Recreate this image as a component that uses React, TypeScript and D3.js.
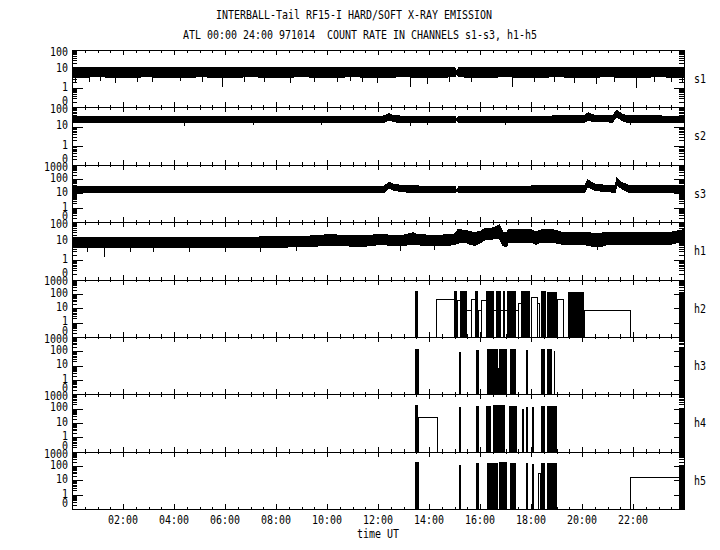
import React from "react";
import * as d3 from "d3";

// ---------- data ----------
const channelNames = ["s1", "s2", "s3", "h1", "h2", "h3", "h4", "h5"];
const channelMax = [100, 100, 1000, 100, 1000, 1000, 1000, 1000];
const hourTicks = [2, 4, 6, 8, 10, 12, 14, 16, 18, 20, 22];
const hourTickLabels = ["02:00", "04:00", "06:00", "08:00", "10:00", "12:00", "14:00", "16:00", "18:00", "20:00", "22:00"];
const titleText = "INTERBALL-Tail RF15-I HARD/SOFT X-RAY EMISSION";
const subtitleText = "ATL 00:00 24:00 971014  COUNT RATE IN CHANNELS s1-s3, h1-h5";
const xAxisTitle = "time UT";

// soft channels: [hour, low edge, high edge] of the noisy count-rate band
const s1Band: [number, number, number][] = [
  [0, 3.8, 12], [1, 3.9, 12.5], [2, 3.8, 12], [3, 3.9, 12.5], [4, 3.7, 12], [5, 3.9, 12.5],
  [6, 3.8, 12], [7, 3.9, 12], [8, 3.8, 12.5], [9, 3.9, 12], [10, 3.8, 12.5], [11, 3.9, 12],
  [12, 3.8, 12], [13, 3.9, 12.5], [14, 3.8, 12], [15.02, 3.9, 12], [15.06, 5, 9], [15.12, 5, 9],
  [15.16, 3.9, 12.5], [16, 3.8, 12], [17, 3.9, 12.5], [18, 3.8, 12], [19, 3.9, 12.5], [20, 3.8, 12],
  [21, 3.9, 12.5], [22, 3.8, 12], [23, 3.9, 12.5], [24, 3.8, 12],
];
const s1Spikes: [number, number][] = [
  [0.14, 2.2], [0.7, 2.0], [1.12, 2.4], [1.71, 1.8], [2.56, 2.2], [3.15, 2.0], [4.26, 2.3],
  [5.12, 2.1], [5.9, 1.2], [6.75, 2.0], [7.53, 2.2], [8.58, 1.9], [9.5, 2.2], [10.42, 2.0],
  [10.94, 2.3], [11.4, 2.1], [11.99, 1.9], [13.27, 1.2], [13.95, 1.7], [14.8, 2.2], [15.65, 2.0],
  [17.29, 1.2], [18.14, 2.0], [18.92, 2.2], [19.71, 1.9], [20.56, 1.6], [21.28, 2.1], [22.13, 1.0],
  [22.85, 2.0], [23.5, 2.2], [23.96, 2.0],
];
const s2Band: [number, number, number][] = [
  [0, 16, 35], [2, 16, 35], [4, 15.5, 35], [6, 16, 35], [8, 16, 35], [10, 16, 35], [12.2, 16, 35],
  [12.43, 22, 46], [12.6, 18, 38], [12.9, 16, 35], [15.02, 16, 35], [15.06, 20, 26], [15.12, 20, 26],
  [15.16, 16, 35], [18, 16, 35], [20.1, 16, 36], [20.24, 22, 53], [20.45, 18, 40], [21.2, 17, 37],
  [21.37, 33, 74], [21.55, 21, 45], [21.8, 16, 36], [24, 16, 35],
];
const s2Spikes: [number, number][] = [
  [4.42, 11], [7.1, 12], [9.8, 12], [13.29, 11], [13.95, 12], [17.0, 12], [21.9, 12],
];
const s3Band: [number, number, number][] = [
  [0, 11, 33], [2, 11, 33], [4, 11, 33], [6, 11, 33], [8, 11, 33], [10, 11, 33], [12.25, 11, 33],
  [12.43, 25, 60], [12.65, 16, 42], [13.0, 13, 36], [13.6, 11, 33], [15.02, 11, 33], [15.06, 14, 20],
  [15.12, 14, 20], [15.16, 11, 33], [18, 11, 33], [20.1, 11, 34], [20.22, 30, 88], [20.5, 16, 45],
  [21.0, 13, 36], [21.3, 12, 35], [21.37, 40, 125], [21.55, 22, 60], [21.85, 12, 36], [24, 11, 33],
];
const h1Band: [number, number, number][] = [
  [0, 4.6, 16], [2, 4.6, 16], [4, 4.5, 16], [6, 4.6, 16], [8, 4.8, 17], [9.5, 5.5, 19], [10, 6, 22],
  [10.5, 6, 21], [11, 5.5, 19], [11.5, 5.5, 20], [12, 6.5, 22], [12.5, 6.3, 21], [13, 6, 21],
  [13.4, 7, 28], [13.5, 6.5, 22], [14, 6, 21], [14.5, 6, 21], [15, 6.5, 24], [15.13, 8, 40],
  [15.4, 9, 38], [15.6, 7, 32], [15.8, 6, 28], [16.0, 8, 33], [16.2, 12, 45], [16.5, 13, 50],
  [16.76, 14, 70], [16.9, 6, 30], [17.05, 5, 28], [17.1, 9, 40], [17.5, 9, 42], [18.0, 9, 40],
  [18.2, 7, 30], [18.4, 9, 40], [18.8, 9, 42], [19.2, 7, 30], [19.5, 7, 28], [20, 7, 29],
  [20.56, 5, 26], [20.8, 5.5, 27], [21, 7, 30], [21.5, 7, 29], [22, 7, 29], [22.5, 7, 28],
  [23, 7, 28], [23.5, 7, 30], [23.8, 9, 36], [24, 10, 40],
];
const h1Spikes: [number, number][] = [
  [0.6, 2.8], [1.27, 1.5], [2.3, 2.8], [3.2, 2.6], [4.6, 2.7], [6.0, 2.9], [7.4, 2.6], [8.8, 3.0],
  [12.9, 3.2], [14.2, 3.5], [20.6, 3.6],
];

// hard channels: dense bursts [start hour, end hour, top value] and
// held steps [start hour, end hour, value]
const h2Blocks: [number, number, number][] = [
  [13.46, 13.56, 150], [14.99, 15.09, 150], [15.21, 15.49, 160], [15.82, 15.94, 170],
  [16.25, 16.54, 160], [16.62, 16.83, 170], [16.89, 16.98, 150], [17.04, 17.43, 160],
  [17.59, 17.98, 150], [18.40, 18.59, 150], [18.63, 19.03, 140], [19.45, 20.07, 130],
  [23.82, 24, 142],
];
const h2Steps: [number, number, number][] = [
  [14.29, 15.01, 46], [15.09, 15.21, 40], [15.43, 15.66, 7.7], [15.66, 15.85, 46],
  [15.94, 16.05, 7.7], [16.05, 16.25, 40], [16.25, 17.48, 7.7], [17.48, 17.59, 24],
  [18.01, 18.25, 63], [18.25, 18.33, 24], [19.03, 19.25, 46], [20.07, 21.9, 7.7],
];
const h3Blocks: [number, number, number][] = [
  [13.46, 13.59, 150], [15.19, 15.23, 90], [15.85, 15.95, 120], [16.28, 16.70, 150],
  [16.75, 17.05, 150], [17.18, 17.43, 140], [17.82, 17.88, 120], [18.40, 18.55, 140],
  [18.63, 18.82, 140], [18.90, 18.93, 110], [23.82, 24, 200],
];
const h3Steps: [number, number, number][] = [[16.70, 16.75, 7]];
const h4Blocks: [number, number, number][] = [
  [13.45, 13.56, 170], [15.19, 15.23, 120], [15.85, 15.95, 140], [16.24, 16.45, 160],
  [16.50, 16.98, 170], [17.13, 17.44, 150], [17.65, 17.72, 90], [17.82, 17.88, 130],
  [18.03, 18.10, 120], [18.40, 18.55, 160], [18.63, 19.01, 150], [23.82, 24, 105],
];
const h4Steps: [number, number, number][] = [[13.56, 14.30, 24], [18.68, 18.80, 10]];
const h5Blocks: [number, number, number][] = [
  [13.46, 13.59, 200], [15.19, 15.23, 120], [15.85, 15.95, 150], [16.28, 16.70, 170],
  [16.75, 17.05, 180], [17.18, 17.43, 150], [17.82, 17.88, 150], [18.03, 18.12, 130],
  [18.40, 18.55, 160], [18.63, 19.01, 150], [23.82, 24, 117],
];
const h5Steps: [number, number, number][] = [[18.28, 18.36, 35], [21.9, 24, 16.5]];

const softBands = [s1Band, s2Band, s3Band, h1Band];
const softSpikes = [s1Spikes, s2Spikes, [] as [number, number][], h1Spikes];
const hardBlocks = [h2Blocks, h3Blocks, h4Blocks, h5Blocks];
const hardSteps = [h2Steps, h3Steps, h4Steps, h5Steps];

// ---------- layout ----------
const W = 720;
const H = 550;
const LEFT = 72;
const RIGHT = 684;
const TOP = 50;
const BOTTOM = 509;
const FONT = "'DejaVu Sans Mono', 'Liberation Mono', monospace";
const CW = 6;

function Txt({ x, y, text, anchor = "start" }: { x: number; y: number; text: string; anchor?: string }) {
  return (
    <text
      x={x}
      y={y}
      textAnchor={anchor}
      textLength={text.length * CW}
      lengthAdjust="spacingAndGlyphs"
      fontFamily={FONT}
      fontSize={12}
      fill="#000"
      style={{ whiteSpace: "pre" }}
    >
      {text}
    </text>
  );
}

export default function App() {
  const x = d3.scaleLinear().domain([0, 24]).range([LEFT, RIGHT]);
  const ph = (BOTTOM - TOP) / channelNames.length;
  const xTicks = d3.range(0, 24.001, 0.5);

  const panels = channelNames.map((name, i) => {
    const top = TOP + i * ph;
    const bot = top + ph;
    const y = d3.scaleLog().domain([0.1, channelMax[i]]).range([bot, top]).clamp(true);
    const allTicks = y.ticks();
    const majors = allTicks.filter((v) => Math.abs(Math.log10(v) - Math.round(Math.log10(v))) < 1e-6);
    const minors = allTicks.filter((v) => !majors.includes(v));
    const labels = majors.map((v) => ({ v, text: v < 1 ? "0" : d3.format("d")(v) }));

    const elems: React.ReactNode[] = [];

    if (i < 4) {
      const band = softBands[i];
      const area = d3
        .area<[number, number, number]>()
        .x((d) => x(d[0]))
        .y0((d) => y(d[1]))
        .y1((d) => y(d[2]));
      elems.push(<path key="band" d={area(band) || ""} fill="#000" stroke="#000" strokeWidth={1} />);
      const bis = d3.bisector((d: [number, number, number]) => d[0]).left;
      softSpikes[i].forEach((s, k) => {
        const j = Math.min(bis(band, s[0]), band.length - 1);
        elems.push(
          <line key={"sp" + k} x1={x(s[0])} x2={x(s[0])} y1={y(band[j][1]) - 1} y2={y(s[1])} stroke="#000" strokeWidth={1} />
        );
      });
    } else {
      const blocks = hardBlocks[i - 4];
      const steps = hardSteps[i - 4];
      steps.forEach((s, k) => {
        const x0 = Math.round(x(s[0])) + 0.5;
        const x1 = Math.round(x(s[1])) + 0.5;
        const yy = Math.round(y(s[2])) + 0.5;
        elems.push(
          <path key={"st" + k} d={`M${x0},${bot}V${yy}H${x1}V${bot}`} fill="none" stroke="#000" strokeWidth={1} />
        );
      });
      blocks.forEach((b, k) => {
        const x0 = x(b[0]);
        const x1 = Math.max(x(b[1]), x0 + 1.5);
        elems.push(<rect key={"bl" + k} x={x0} y={y(b[2])} width={x1 - x0} height={bot - y(b[2])} fill="#000" />);
      });
    }

    // frame & ticks
    const tickLines: React.ReactNode[] = [];
    xTicks.forEach((t, k) => {
      const major = Math.abs(t % 2) < 1e-6;
      const len = major ? 5 : 2.5;
      const xx = Math.round(x(t)) + 0.5;
      tickLines.push(<line key={"xt" + k} x1={xx} x2={xx} y1={top} y2={top + len} stroke="#000" />);
      tickLines.push(<line key={"xb" + k} x1={xx} x2={xx} y1={bot} y2={bot - len} stroke="#000" />);
    });
    minors.forEach((v, k) => {
      const yy = Math.round(y(v)) + 0.5;
      tickLines.push(<line key={"ml" + k} x1={LEFT} x2={LEFT + 5} y1={yy} y2={yy} stroke="#000" />);
      tickLines.push(<line key={"mr" + k} x1={RIGHT} x2={RIGHT - 5} y1={yy} y2={yy} stroke="#000" />);
    });
    majors.forEach((v, k) => {
      const yy = Math.round(y(v)) + 0.5;
      tickLines.push(<line key={"Ml" + k} x1={LEFT} x2={LEFT + 11} y1={yy} y2={yy} stroke="#000" />);
      tickLines.push(<line key={"Mr" + k} x1={RIGHT} x2={RIGHT - 10} y1={yy} y2={yy} stroke="#000" />);
    });

    return (
      <g key={name}>
        <g>{elems}</g>
        <rect x={LEFT + 0.5} y={Math.round(top) + 0.5} width={RIGHT - LEFT} height={Math.round(bot) - Math.round(top)} fill="none" stroke="#000" />
        <g>{tickLines}</g>
        {labels.map((l) => {
          let cy = y(l.v) - 1.5;
          if (l.v < 1) cy = bot - 6.5;
          if (l.v === channelMax[i]) cy = top + 1.5;
          return <Txt key={"lb" + l.v} x={68} y={cy + 4.4} text={l.text} anchor="end" />;
        })}
        <Txt x={694} y={(top + bot) / 2 + 4.4} text={name} />
      </g>
    );
  });

  return (
    <svg width={W} height={H} style={{ position: "absolute", left: 0, top: 0, background: "#fff" }} shapeRendering="crispEdges">
      <rect x={0} y={0} width={W} height={H} fill="#fff" />
      <Txt x={216} y={19} text={titleText} />
      <Txt x={183} y={38.7} text={subtitleText} />
      {panels}
      {hourTicks.map((h, k) => (
        <Txt key={"hl" + k} x={x(h)} y={524.4} text={hourTickLabels[k]} anchor="middle" />
      ))}
      <Txt x={(LEFT + RIGHT) / 2} y={537.5} text={xAxisTitle} anchor="middle" />
    </svg>
  );
}
